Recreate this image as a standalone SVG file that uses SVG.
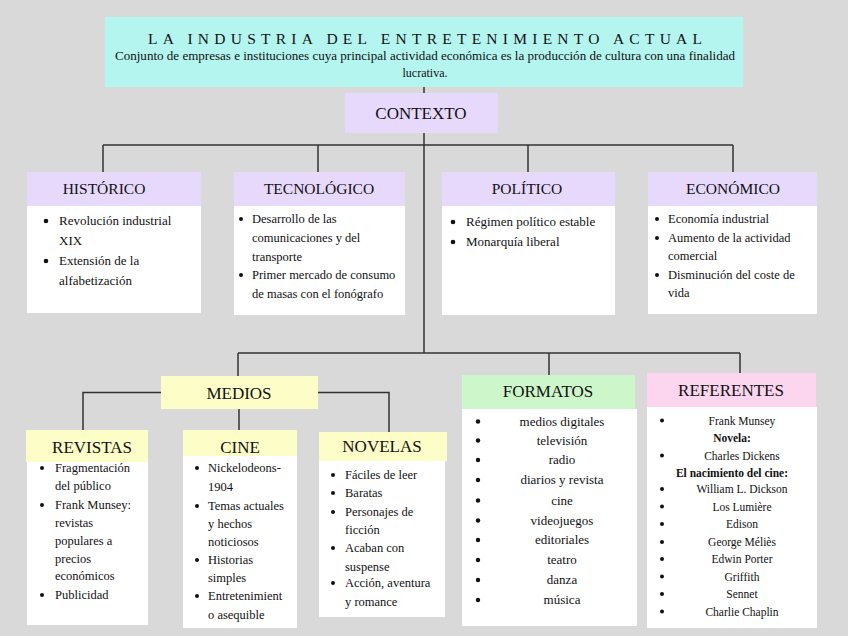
<svg xmlns="http://www.w3.org/2000/svg" width="848" height="636" viewBox="0 0 848 636">
<style>
text{font-family:"Liberation Serif","Times New Roman",serif;fill:#111}
.hd{font-size:15.5px;text-anchor:middle}
.hd2{font-size:17px;text-anchor:middle}
.b12{font-size:12.5px}
.b13{font-size:13px}
.c13{font-size:13px;text-anchor:middle}
.r{font-size:11.5px;text-anchor:middle}
.rb{font-size:11.5px;text-anchor:middle;font-weight:bold}
.dot{fill:#111}
.body{fill:#ffffff}
.lav{fill:#e6d9fc}
.yel{fill:#fdfdc8}
.grn{fill:#cdf7ca}
.pnk{fill:#fcd5ee}
.cn{stroke:#333;stroke-width:1.5;fill:none}
</style>
<rect width="848" height="636" fill="#d9d9d9"/>
<g id="connectors">
<path class="cn" d="M424 87V93M424 133V353M103 145H733M103 145V172M318 145V172M528 145V172M733 145V172"/>
<path class="cn" d="M238 353H740M238 353V376M549 353V375M740 353V373"/>
<path class="cn" d="M239 409V430M161 392.5H83V430M318 392.5H389V432"/>
</g>
<g id="title">
<rect x="105" y="17" width="638" height="70" fill="#b4f5f0"/>
<text x="148" y="44" font-size="15.5" textLength="554" lengthAdjust="spacing">LA INDUSTRIA DEL ENTRETENIMIENTO ACTUAL</text>
<text x="115" y="60" font-size="12" textLength="620" lengthAdjust="spacingAndGlyphs">Conjunto de empresas e instituciones cuya principal actividad económica es la producción de cultura con una finalidad</text>
<text x="425" y="77" font-size="12" text-anchor="middle">lucrativa.</text>
</g>
<g id="contexto">
<rect class="lav" x="345" y="93" width="153" height="40"/>
<text x="421" y="119" font-size="17" text-anchor="middle">CONTEXTO</text>
</g>
<g id="historico">
<rect class="lav" x="27" y="172" width="174" height="34"/>
<rect class="body" x="27" y="206" width="174" height="107"/>
<text class="hd" x="104" y="194">HISTÓRICO</text>
<circle class="dot" cx="46" cy="221" r="2.3"/>
<text class="b13" x="59" y="225">Revolución industrial</text>
<text class="b13" x="59" y="245">XIX</text>
<circle class="dot" cx="46" cy="261" r="2.3"/>
<text class="b13" x="59" y="265">Extensión de la</text>
<text class="b13" x="59" y="285">alfabetización</text>
</g>
<g id="tecnologico">
<rect class="lav" x="234" y="172" width="171" height="34"/>
<rect class="body" x="234" y="206" width="171" height="109"/>
<text class="hd" x="319" y="194">TECNOLÓGICO</text>
<circle class="dot" cx="241" cy="219" r="2"/>
<text class="b12" x="252" y="223">Desarrollo de las</text>
<text class="b12" x="252" y="242">comunicaciones y del</text>
<text class="b12" x="252" y="261">transporte</text>
<circle class="dot" cx="241" cy="275" r="2"/>
<text class="b12" x="252" y="279">Primer mercado de consumo</text>
<text class="b12" x="252" y="298">de masas con el fonógrafo</text>
</g>
<g id="politico">
<rect class="lav" x="442" y="172" width="173" height="34"/>
<rect class="body" x="442" y="206" width="173" height="109"/>
<text class="hd" x="527" y="194">POLÍTICO</text>
<circle class="dot" cx="453" cy="222" r="2.3"/>
<text class="b13" x="466" y="226">Régimen político estable</text>
<circle class="dot" cx="453" cy="242" r="2.3"/>
<text class="b13" x="466" y="246">Monarquía liberal</text>
</g>
<g id="economico">
<rect class="lav" x="648" y="172" width="169" height="34"/>
<rect class="body" x="648" y="206" width="169" height="108"/>
<text class="hd" x="733" y="194">ECONÓMICO</text>
<circle class="dot" cx="657" cy="219" r="2"/>
<text class="b12" x="668" y="223">Economía industrial</text>
<circle class="dot" cx="657" cy="238" r="2"/>
<text class="b12" x="668" y="242">Aumento de la actividad</text>
<text class="b12" x="668" y="260">comercial</text>
<circle class="dot" cx="657" cy="275" r="2"/>
<text class="b12" x="668" y="279">Disminución del coste de</text>
<text class="b12" x="668" y="297">vida</text>
</g>
<g id="medios">
<rect class="yel" x="161" y="376" width="157" height="33"/>
<text class="hd2" x="239" y="399">MEDIOS</text>
</g>
<g id="revistas">
<rect class="yel" x="26" y="430" width="122" height="32"/>
<rect class="body" x="27" y="462" width="121" height="163"/>
<text class="hd2" x="92" y="453">REVISTAS</text>
<circle class="dot" cx="42" cy="468" r="2"/>
<text class="b12" x="55" y="472">Fragmentación</text>
<text class="b12" x="55" y="490">del público</text>
<circle class="dot" cx="42" cy="505" r="2"/>
<text class="b12" x="55" y="509">Frank Munsey:</text>
<text class="b12" x="55" y="527">revistas</text>
<text class="b12" x="55" y="545">populares a</text>
<text class="b12" x="55" y="563">precios</text>
<text class="b12" x="55" y="580">económicos</text>
<circle class="dot" cx="42" cy="595" r="2"/>
<text class="b12" x="55" y="599">Publicidad</text>
</g>
<g id="cine">
<rect class="yel" x="183" y="430" width="114" height="26"/>
<rect class="body" x="183" y="456" width="114" height="172"/>
<text class="hd2" x="240" y="453">CINE</text>
<circle class="dot" cx="197" cy="468" r="2"/>
<text class="b12" x="208" y="472">Nickelodeons-</text>
<text class="b12" x="208" y="491">1904</text>
<circle class="dot" cx="197" cy="506" r="2"/>
<text class="b12" x="208" y="510">Temas actuales</text>
<text class="b12" x="208" y="528">y hechos</text>
<text class="b12" x="208" y="546">noticiosos</text>
<circle class="dot" cx="197" cy="560" r="2"/>
<text class="b12" x="208" y="564">Historias</text>
<text class="b12" x="208" y="582">simples</text>
<circle class="dot" cx="197" cy="596" r="2"/>
<text class="b12" x="208" y="600">Entretenimient</text>
<text class="b12" x="208" y="619">o asequible</text>
</g>
<g id="novelas">
<rect class="yel" x="319" y="432" width="128" height="29"/>
<rect class="body" x="319" y="461" width="126" height="156"/>
<text class="hd2" x="382" y="452">NOVELAS</text>
<circle class="dot" cx="333" cy="475" r="2"/>
<text class="b12" x="345" y="479">Fáciles de leer</text>
<circle class="dot" cx="333" cy="493" r="2"/>
<text class="b12" x="345" y="497">Baratas</text>
<circle class="dot" cx="333" cy="512" r="2"/>
<text class="b12" x="345" y="516">Personajes de</text>
<text class="b12" x="345" y="534">ficción</text>
<circle class="dot" cx="333" cy="548" r="2"/>
<text class="b12" x="345" y="552">Acaban con</text>
<text class="b12" x="345" y="571">suspense</text>
<circle class="dot" cx="333" cy="583" r="2"/>
<text class="b12" x="345" y="587">Acción, aventura</text>
<text class="b12" x="345" y="606">y romance</text>
</g>
<g id="formatos">
<rect class="grn" x="462" y="375" width="173" height="34"/>
<rect class="body" x="462" y="409" width="175" height="217"/>
<text class="hd2" x="548" y="397">FORMATOS</text>
<g class="dot">
<circle cx="478" cy="421.5" r="2.2"/><circle cx="478" cy="440.5" r="2.2"/><circle cx="478" cy="460" r="2.2"/><circle cx="478" cy="480" r="2.2"/><circle cx="478" cy="500.5" r="2.2"/><circle cx="478" cy="520.5" r="2.2"/><circle cx="478" cy="540" r="2.2"/><circle cx="478" cy="560" r="2.2"/><circle cx="478" cy="580" r="2.2"/><circle cx="478" cy="600" r="2.2"/>
</g>
<text class="c13" x="562" y="426">medios digitales</text>
<text class="c13" x="562" y="445">televisión</text>
<text class="c13" x="562" y="464">radio</text>
<text class="c13" x="562" y="484">diarios y revista</text>
<text class="c13" x="562" y="505">cine</text>
<text class="c13" x="562" y="525">videojuegos</text>
<text class="c13" x="562" y="544">editoriales</text>
<text class="c13" x="562" y="564">teatro</text>
<text class="c13" x="562" y="584">danza</text>
<text class="c13" x="562" y="604">música</text>
</g>
<g id="referentes">
<rect class="pnk" x="647" y="373" width="169" height="34"/>
<rect class="body" x="647" y="407" width="170" height="221"/>
<text class="hd2" x="731" y="396">REFERENTES</text>
<g class="dot">
<circle cx="662" cy="420.5" r="2"/><circle cx="662" cy="455.5" r="2"/><circle cx="662" cy="489" r="2"/><circle cx="662" cy="506.5" r="2"/><circle cx="662" cy="524" r="2"/><circle cx="662" cy="542" r="2"/><circle cx="662" cy="559" r="2"/><circle cx="662" cy="576.5" r="2"/><circle cx="662" cy="594" r="2"/><circle cx="662" cy="611.5" r="2"/>
</g>
<text class="r" x="742" y="424.5">Frank Munsey</text>
<text class="rb" x="732" y="442">Novela:</text>
<text class="r" x="742" y="459.5">Charles Dickens</text>
<text class="rb" x="732" y="476.5">El nacimiento del cine:</text>
<text class="r" x="742" y="493">William L. Dickson</text>
<text class="r" x="742" y="510.5">Los Lumière</text>
<text class="r" x="742" y="528">Edison</text>
<text class="r" x="742" y="546">George Méliès</text>
<text class="r" x="742" y="563">Edwin Porter</text>
<text class="r" x="742" y="580.5">Griffith</text>
<text class="r" x="742" y="598">Sennet</text>
<text class="r" x="742" y="615.5">Charlie Chaplin</text>
</g>
</svg>
